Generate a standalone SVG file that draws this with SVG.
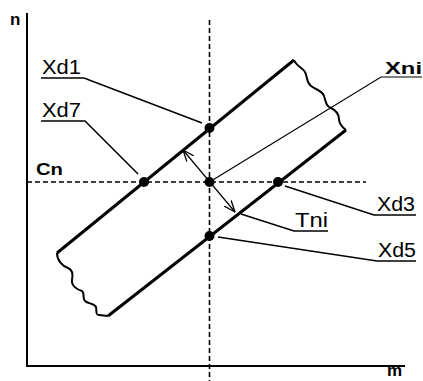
<svg xmlns="http://www.w3.org/2000/svg" width="423" height="381" viewBox="0 0 423 381">
<defs>
<marker id="arr" viewBox="0 0 12 10" refX="11.5" refY="5" markerWidth="12" markerHeight="10" markerUnits="userSpaceOnUse" orient="auto-start-reverse">
<path d="M0,0.5 L11.5,5 L0,9.5" fill="none" stroke="#000" stroke-width="1.3"/>
</marker>
</defs>
<style>
.axis{stroke:#000;stroke-width:2;fill:none}
.dash{stroke:#000;stroke-width:1.6;stroke-dasharray:5 3;fill:none}
.band{stroke:#000;stroke-width:3;fill:none;stroke-linejoin:round}
.wave{stroke:#000;stroke-width:2;fill:none;stroke-linejoin:round}
.lead{stroke:#000;stroke-width:1.5;fill:none}
.thin{stroke:#000;stroke-width:1.2;fill:none}
.lbl{font-family:"Liberation Sans",Arial,sans-serif;font-size:20px;fill:#000}
.bold{font-family:"Liberation Sans",Arial,sans-serif;font-weight:bold;font-size:17px;fill:#000}
.dot{fill:#000}
</style>
<g id="axes">
<path class="axis" d="M27,13 V366 H405"/>
<text class="bold" x="10" y="25" font-size="19">n</text>
<text class="bold" x="387" y="376" font-size="17">m</text>
</g>
<g id="guides">
<path class="dash" d="M209.5,20 V381"/>
<path class="dash" d="M27,182 H366"/>
<text class="bold" x="36" y="175" textLength="27" lengthAdjust="spacingAndGlyphs">Cn</text>
</g>
<g id="band">
<path class="band" d="M57,253 L294,60"/>
<path class="band" d="M108,316 L346,130"/>
<path class="wave" d="M294,60 C296,66 303,68 305,72 C308,78 306,82 311,86 C316,90 322,90 324,96 C326,102 326,106 331,108 C337,111 339,114 339,119 C339,124 342,127 346,130"/>
<path class="wave" d="M57,253 C57,260 62,266 68,268 C73,270 73,275 72,280 C71,286 78,290 82,291 C85,293 82,298 85,301 C88,304 94,303 96,307 C97,311 95,315 99,315 L108,316"/>
</g>
<g id="connectors">
<path class="thin" d="M183,150 L235,212" marker-start="url(#arr)" marker-end="url(#arr)"/>
<path class="thin" d="M209.5,182 L381,77 H422"/>
<path class="lead" d="M41,78 H84 L202,123"/>
<path class="lead" d="M41,121 H85 L138,174"/>
<path class="lead" d="M285,186 L374,215 H416"/>
<path class="lead" d="M241,214 L294,231 H328"/>
<path class="lead" d="M218,237 L377,261 H416"/>
</g>
<g id="Xd1"><circle class="dot" cx="209.5" cy="128" r="5"/><text class="lbl" x="42" y="74" textLength="39" lengthAdjust="spacingAndGlyphs">Xd1</text></g>
<g id="Xd7"><circle class="dot" cx="144" cy="182" r="5"/><text class="lbl" x="42" y="117" textLength="39" lengthAdjust="spacingAndGlyphs">Xd7</text></g>
<g id="Xni"><circle class="dot" cx="209.5" cy="182" r="5"/><text class="bold" x="385" y="74" textLength="37" lengthAdjust="spacingAndGlyphs">Xni</text></g>
<g id="Xd3"><circle class="dot" cx="278" cy="182" r="5"/><text class="lbl" x="377" y="211" textLength="38" lengthAdjust="spacingAndGlyphs">Xd3</text></g>
<g id="Tni"><text class="lbl" x="295" y="227" textLength="33" lengthAdjust="spacingAndGlyphs">Tni</text></g>
<g id="Xd5"><circle class="dot" cx="209.5" cy="236" r="5"/><text class="lbl" x="378" y="257" textLength="38" lengthAdjust="spacingAndGlyphs">Xd5</text></g>
</svg>
